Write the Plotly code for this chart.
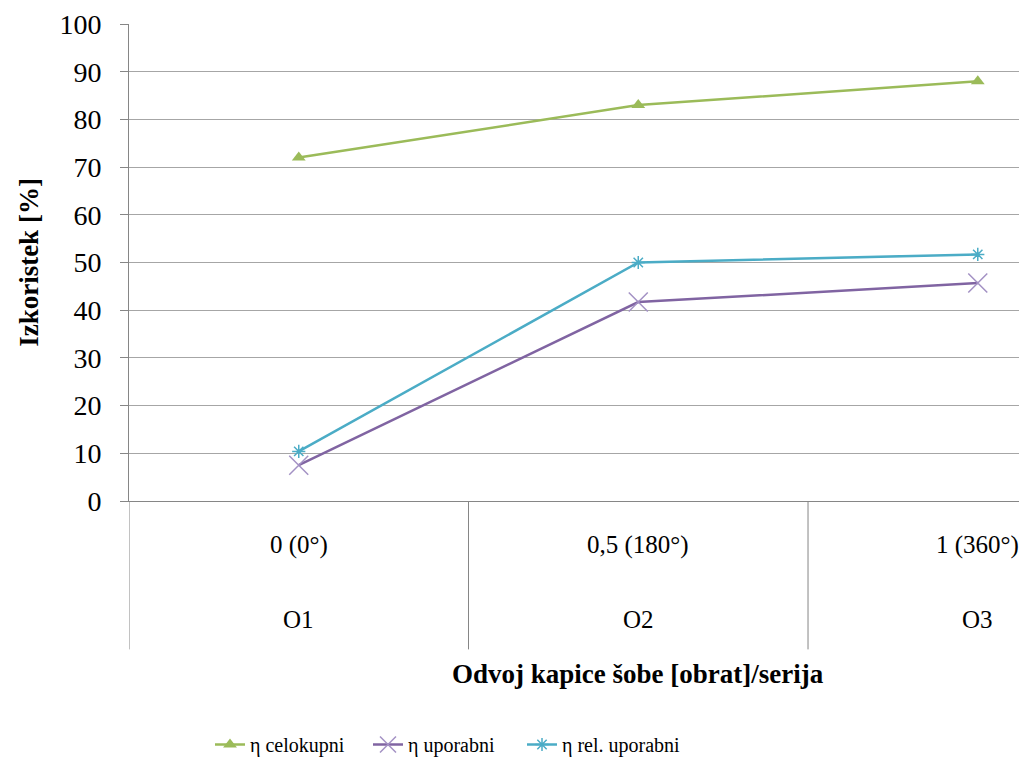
import plotly.graph_objects as go

categories = [0, 1, 2]
cat_labels_top = ["0 (0°)", "0,5 (180°)", "1 (360°)"]
cat_labels_bottom = ["O1", "O2", "O3"]
eta_celokupni = [72, 83, 88]
eta_uporabni = [7.5, 41.7, 45.7]
eta_rel_uporabni = [10.4, 50.0, 51.7]

FONT = "Liberation Serif"
fig = go.Figure()
fig.add_trace(go.Scatter(x=categories, y=eta_celokupni, name="η celokupni", mode="lines+markers",
                         line=dict(color="#9bbb59", width=2.5), legend="legend",
                         marker=dict(symbol="triangle-up", size=12, color="#9bbb59")))
fig.add_trace(go.Scatter(x=categories, y=eta_uporabni, name="η uporabni", mode="lines+markers",
                         line=dict(color="#8064a2", width=2.5), legend="legend2",
                         marker=dict(symbol="x-thin", size=19, line=dict(color="#a391c4", width=1.5))))
fig.add_trace(go.Scatter(x=categories, y=eta_rel_uporabni, name="η rel. uporabni", mode="lines+markers",
                         line=dict(color="#4bacc6", width=2.5), legend="legend3",
                         marker=dict(symbol="asterisk-open", size=11, line=dict(color="#4bacc6", width=1.5))))

H = 479.0
def py(px):
    return -(px - 503) / H

annotations = []
for c, t, b in zip(categories, cat_labels_top, cat_labels_bottom):
    annotations.append(dict(x=c, y=py(547), xref="x", yref="paper", text=t, showarrow=False,
                            xanchor="center", yanchor="middle",
                            font=dict(family=FONT, size=25, color="#000")))
    annotations.append(dict(x=c, y=py(622), xref="x", yref="paper", text=b, showarrow=False,
                            xanchor="center", yanchor="middle",
                            font=dict(family=FONT, size=25, color="#000")))
annotations.append(dict(x=categories[1], y=py(677), xref="x", yref="paper",
                        text="<b>Odvoj kapice šobe [obrat]/serija</b>", showarrow=False,
                        xanchor="center", yanchor="middle",
                        font=dict(family=FONT, size=27, color="#000")))

shapes = []
for c in categories:
    xb = c - 0.5
    shapes.append(dict(type="line", xref="x", yref="paper", x0=xb, x1=xb, y0=0, y1=py(652),
                       line=dict(color="#868686", width=1)))

def leg(start_px):
    return dict(orientation="h", x=(start_px - 5 - 129) / 898, xanchor="left", y=py(748),
                yanchor="middle", font=dict(family=FONT, size=20), itemwidth=30,
                bgcolor="rgba(0,0,0,0)")

fig.update_layout(
    width=1019, height=756,
    margin=dict(l=121, r=0, t=16, b=261),
    plot_bgcolor="white", paper_bgcolor="white",
    font=dict(family=FONT, size=20, color="#000"),
    showlegend=True,
    legend=leg(215), legend2=leg(373), legend3=leg(527),
    xaxis=dict(range=[-0.5, 2.145], showgrid=False, showticklabels=False, zeroline=False,
               showline=True, linecolor="#868686", linewidth=1, ticks=""),
    yaxis=dict(range=[0, 100], dtick=10, showgrid=True, gridcolor="#a6a6a6", gridwidth=1,
               zeroline=False, showline=True, linecolor="#868686", linewidth=1,
               ticks="outside", ticklen=8, tickcolor="#868686", ticklabelstandoff=13,
               tickfont=dict(family=FONT, size=28),
               title=dict(text="<b>Izkoristek [%]</b>", font=dict(family=FONT, size=27), standoff=12)),
    annotations=annotations, shapes=shapes,
)
fig.write_html("out.html")
